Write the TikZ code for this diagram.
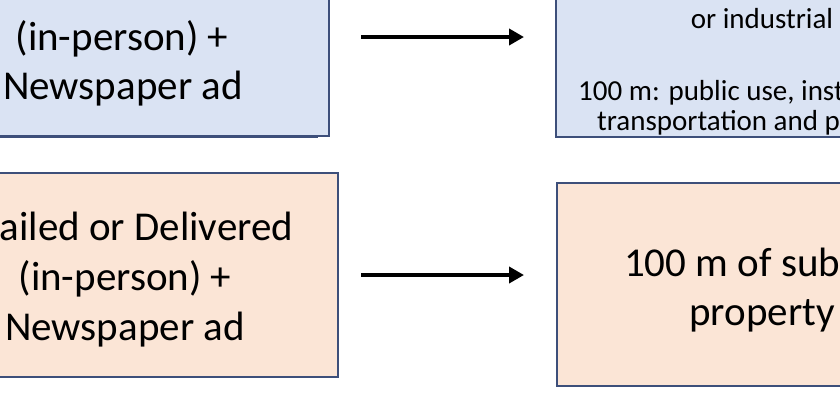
\documentclass[tikz,border=0pt]{standalone}
\usepackage{fontspec}
\setmainfont{Carlito}
\usetikzlibrary{arrows.meta}
\definecolor{boxblue}{HTML}{DAE3F3}
\definecolor{boxorange}{HTML}{FBE5D6}
\definecolor{boxline}{HTML}{3D4F7A}
\tikzset{
  box/.style={draw=boxline, line width=2pt, rectangle, inner sep=0pt},
  bluebox/.style={box, fill=boxblue},
  orangebox/.style={box, fill=boxorange},
  bigtext/.style={inner sep=0pt, font=\fontsize{41}{50}\selectfont},
  smalltext/.style={inner sep=0pt, font=\fontsize{29}{35}\selectfont},
  flow/.style={line width=4.5pt, -{Triangle[length=15pt,width=16pt]}}
}
\begin{document}
\begin{tikzpicture}[x=1pt,y=-1pt]
\useasboundingbox (0,0) rectangle (840,416);
% boxes
\node[bluebox, minimum width=419pt, minimum height=146pt] (tl) at (119.5,63) {};
\draw[boxline, line width=2pt] (-10,137) -- (318,137);
\node[orangebox, minimum width=428pt, minimum height=204pt] (bl) at (124,275) {};
\node[bluebox, minimum width=404pt, minimum height=147pt] (tr) at (758,63.5) {};
\node[orangebox, minimum width=404pt, minimum height=203pt] (br) at (758.5,284.5) {};
% texts left
\node[bigtext, anchor=base] (tl1) at (122,50) {(in-person) +};
\node[bigtext, anchor=base] (tl2) at (123,99) {Newspaper ad};
\node[bigtext, anchor=base west] (bl1) at (-0.5,240) {ailed or Delivered};
\node[bigtext, anchor=base] (bl2) at (125,290) {(in-person) +};
\node[bigtext, anchor=base] (bl3) at (125,340) {Newspaper ad};
% texts right
\node[smalltext, anchor=base] (tr1) at (762,28) {or industrial};
\node[smalltext, anchor=base west] (tr2) at (578,100) {100 m: public use, inst};
\node[smalltext, anchor=base west] (tr3) at (597,130) {transportation and p};
\node[bigtext, anchor=base west] (br1) at (624,276) {100 m of sub};
\node[bigtext, anchor=base] (br2) at (762,325) {property};
% arrows
\coordinate (a1s) at (361,37);
\coordinate (a1e) at (524,37);
\coordinate (a2s) at (361,275);
\coordinate (a2e) at (524,275);
\draw[flow] (a1s) -- (a1e);
\draw[flow] (a2s) -- (a2e);
\end{tikzpicture}
\end{document}
